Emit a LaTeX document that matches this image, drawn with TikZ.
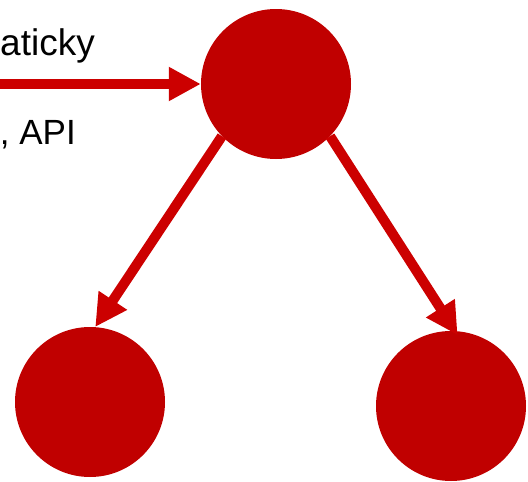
\documentclass[tikz,border=0pt]{standalone}
\usepackage{fontspec}
\setmainfont{Liberation Sans}
\usetikzlibrary{arrows.meta}
\definecolor{circred}{HTML}{C00000}
\definecolor{arrred}{HTML}{CC0000}
\tikzset{
  ball/.style={circle, fill=circred, draw=none, minimum size=150pt, inner sep=0pt},
  arr/.style={draw=arrred, line width=10pt, -{Triangle[length=32pt,width=32pt]}},
  lbl/.style={font=\fontsize{35}{40}\selectfont, inner sep=0pt}
}
\begin{document}
\begin{tikzpicture}[x=1pt,y=-1pt]
\useasboundingbox (0,0) rectangle (528,482);
\node[ball] (top) at (276,84) {};
\node[ball] (bl) at (90,402) {};
\node[ball] (br) at (451,406) {};
\coordinate (src) at (0,84);
\node[lbl, font=\fontsize{37}{42}\selectfont, anchor=base east] (t1) at (95,55) {aticky};
\node[lbl, anchor=base east] (t2) at (76,144) {, API};
\draw[arr] (src) -- (top.west);
\draw[arr] (top.224) -- (bl.86);
\draw[arr, shorten >=-5pt] (top.-44) -- (br.87);
\end{tikzpicture}
\end{document}
